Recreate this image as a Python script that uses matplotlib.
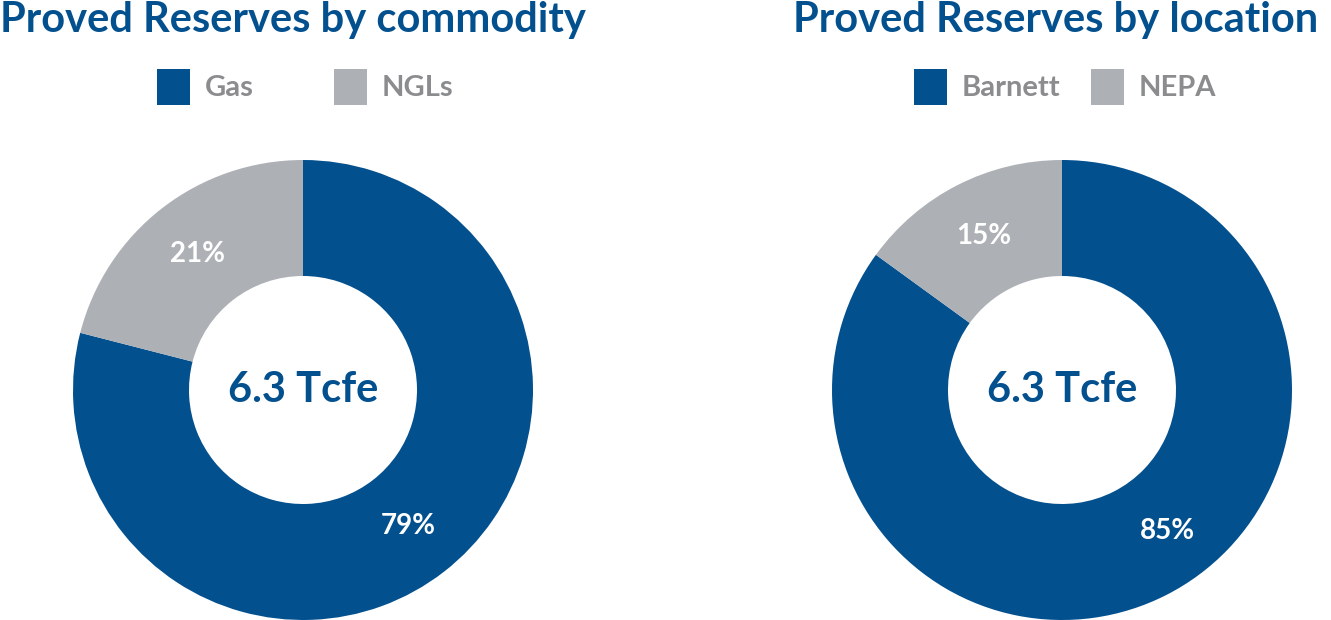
import matplotlib
matplotlib.use('Agg')
import matplotlib.pyplot as plt
from matplotlib.patches import Rectangle

plt.rcParams['font.family'] = ['Lato', 'DejaVu Sans']

blue = '#03508f'
grey = '#adb1b6'
legend_grey = '#8b8c8e'

titles = ['Proved Reserves by commodity', 'Proved Reserves by location']
labels_left = ['Gas', 'NGLs']
values_left = [79, 21]
labels_right = ['Barnett', 'NEPA']
values_right = [85, 15]
total_text = '6.3 Tcfe'

W, H = 1331, 620
fig = plt.figure(figsize=(W / 100, H / 100), dpi=100)
ax = fig.add_axes([0, 0, 1, 1])

charts = [
    (titles[0], labels_left, values_left, 303, 0, 157),
    (titles[1], labels_right, values_right, 1062, 793, 914),
]

for title, labels, values, cx, tx, lx in charts:
    cy = H - 390
    wedges, texts, autotexts = ax.pie(
        values, colors=[blue, grey], startangle=90, counterclock=False,
        center=(cx, cy), radius=230, autopct='%d%%', pctdistance=0.75,
        wedgeprops=dict(width=116, linewidth=0), frame=True,
        textprops=dict(color='white', fontsize=20, fontweight='bold'))
    ax.text(cx, cy, total_text, ha='center', va='center', color=blue,
            fontsize=30, fontweight='bold')
    ax.text(tx, H - 20, title, ha='left', va='center', color=blue,
            fontsize=30, fontweight='bold')
    # legend: squares with labels in fixed columns
    for i, (lab, w) in enumerate(zip(labels, wedges)):
        x0 = lx + i * 177
        ax.add_patch(Rectangle((x0, H - 105), 33, 36, color=w.get_facecolor(), lw=0))
        ax.text(x0 + 48, H - 88, lab, ha='left', va='center', color=legend_grey,
                fontsize=21, fontweight='bold')

# move the 85% label as in the original
autotexts[0].set_position((cx + 105, cy - 141))

ax.set_xlim(0, W)
ax.set_ylim(0, H)
ax.set_aspect('equal')
ax.axis('off')

fig.savefig('out.png', dpi=100)
